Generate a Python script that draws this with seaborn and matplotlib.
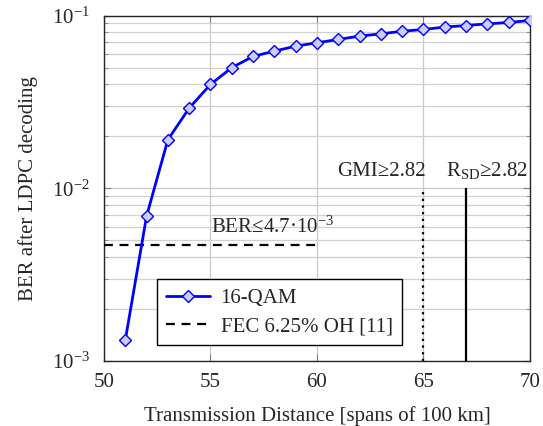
import matplotlib as mpl
mpl.use('Agg')
import matplotlib.pyplot as plt
import seaborn as sns
import pandas as pd
from matplotlib.ticker import LogLocator, NullFormatter

# --- data ---
spans = [51, 52, 53, 54, 55, 56, 57, 58, 59, 60,
         61, 62, 63, 64, 65, 66, 67, 68, 69, 70]
ber_16qam = [1.32e-3, 6.9e-3, 1.91e-2, 2.91e-2, 3.99e-2, 4.99e-2, 5.80e-2, 6.22e-2, 6.65e-2, 6.95e-2,
             7.27e-2, 7.60e-2, 7.83e-2, 8.11e-2, 8.30e-2, 8.57e-2, 8.75e-2, 8.95e-2, 9.11e-2, 9.36e-2]
fec_ber = 4.7e-3
fec_span = [50, 60]
gmi_span = 65
rsd_span = 67
marker_ber = [1e-3, 1e-2]

df = pd.DataFrame({'span': spans, 'ber': ber_16qam})

sns.set_style('ticks')
plt.rcParams.update({
    'font.family': ['Liberation Serif', 'DejaVu Serif'],
    'mathtext.fontset': 'stix',
    'font.size': 15,
    'axes.linewidth': 1.0,
})

fig = plt.figure(figsize=(5.43, 4.26), dpi=100)
ax = fig.add_axes([0.1915, 0.1526, 0.7845, 0.811])

sns.lineplot(data=df, x='span', y='ber', ax=ax, color='#0000ff', linewidth=2.0,
             marker='D', markersize=6.5, markerfacecolor='#ccccff', markeredgecolor='#0000ff',
             markeredgewidth=1.0, label='16-QAM', zorder=4)

ax.hlines(fec_ber, fec_span[0], fec_span[1], colors='black', linestyles=(0, (4, 3)),
          linewidth=1.6, label='FEC 6.25% OH [11]', zorder=3)
ax.vlines(gmi_span, marker_ber[0], marker_ber[1], colors='black', linestyles=(0, (1, 2)),
          linewidth=1.6, zorder=3)
ax.vlines(rsd_span, marker_ber[0], marker_ber[1], colors='black', linewidth=1.6, zorder=3)

ax.text(57.9, 5.15e-3, 'BER\u22644.7\u00b710$^{\\mathregular{-3}}$', ha='center', va='bottom')
ax.text(65.1, 1.1e-2, 'GMI\u22652.82', ha='right', va='bottom')
ax.text(68.0, 1.1e-2, '$\\mathregular{R_{SD}}$\u22652.82', ha='center', va='bottom')

ax.set_yscale('log')
ax.set_xlim(50, 70)
ax.set_ylim(1e-3, 1e-1)
ax.set_xticks([50, 55, 60, 65, 70])
ax.yaxis.set_major_locator(LogLocator(base=10, numticks=5))
ax.yaxis.set_minor_locator(LogLocator(base=10, subs=range(2, 10), numticks=20))
ax.yaxis.set_minor_formatter(NullFormatter())

ax.grid(True, which='major', color='#c8c8c8', linewidth=0.9)
ax.grid(True, which='minor', axis='y', color='#d0d0d0', linewidth=0.9)
ax.set_axisbelow(True)
ax.tick_params(which='both', direction='in', top=True, right=True, color='#808080')
ax.tick_params(which='major', length=5)
ax.tick_params(which='minor', length=3)
ax.tick_params(axis='x', pad=9)
ax.tick_params(axis='y', pad=10)

ax.set_xlabel('Transmission Distance [spans of 100 km]', labelpad=10)
ax.set_ylabel('BER after LDPC decoding', labelpad=10)

leg = ax.legend(loc='lower left', bbox_to_anchor=(0.1, 0.015), fancybox=False,
                edgecolor='black', framealpha=1.0, handlelength=2.1, handletextpad=0.5,
                borderpad=0.45, labelspacing=0.4)
leg.get_frame().set_linewidth(1.0)

fig.savefig('out.png', dpi=100)
